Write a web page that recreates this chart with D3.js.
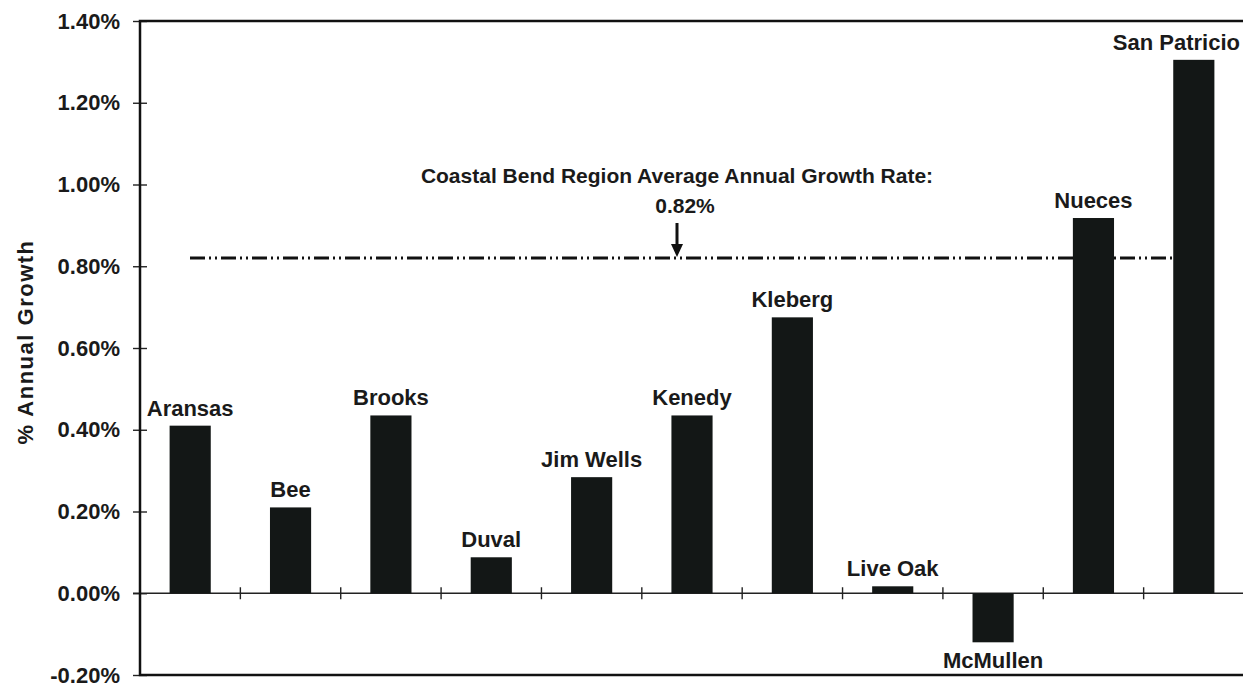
<!DOCTYPE html>
<html>
<head>
<meta charset="utf-8">
<script src="https://cdn.jsdelivr.net/npm/d3@7"></script>
<style>
  body { margin: 0; background: #fff; }
  text { font-family: "Liberation Sans", Arial, sans-serif; font-weight: bold; fill: #1a1a1a; }
</style>
</head>
<body>
<script>
var width = 1243,
    height = 687;

var counties = ["Aransas", "Bee", "Brooks", "Duval", "Jim Wells", "Kenedy",
    "Kleberg", "Live Oak", "McMullen", "Nueces", "San Patricio"];
var growth = [0.0041, 0.0021, 0.00435, 0.00088, 0.00284, 0.00435,
    0.00675, 0.00017, -0.0012, 0.00918, 0.01305];
var yTicks = [-0.002, 0, 0.002, 0.004, 0.006, 0.008, 0.010, 0.012, 0.014];
var regionAverage = 0.0082;

var margin = { left: 140, top: 21, right: -1, bottom: 12 };

var svg = d3.select("body").append("svg")
    .attr("width", width)
    .attr("height", height);

var x = d3.scaleBand()
    .domain(counties)
    .range([margin.left, width - margin.right])
    .paddingInner(0.59)
    .paddingOuter(0.295);

var y = d3.scaleLinear()
    .domain([-0.002, 0.014])
    .range([height - margin.bottom, margin.top]);

// plain hyphen for negatives, like the original
var fmt = d3.formatLocale({ decimal: ".", thousands: ",", grouping: [3], currency: ["$", ""], minus: "-" }).format(".2%");

// average line goes behind the bars
svg.append("line")
    .attr("x1", 190)
    .attr("x2", x("San Patricio") + x.bandwidth() / 2)
    .attr("y1", y(regionAverage))
    .attr("y2", y(regionAverage))
    .attr("stroke", "#111")
    .attr("stroke-width", 3)
    .attr("stroke-dasharray", "15,4,2,4,2,4");

// zero line
svg.append("line")
    .attr("x1", margin.left - 7)
    .attr("x2", width)
    .attr("y1", y(0))
    .attr("y2", y(0))
    .attr("stroke", "#222")
    .attr("stroke-width", 1.4);

// x ticks between categories on the zero line
var step = x.step();
svg.selectAll(".xtick")
    .data(counties.slice(1))
    .enter().append("line")
    .attr("class", "xtick")
    .attr("x1", function (d) { return x(d) + x.bandwidth() / 2 - step / 2; })
    .attr("x2", function (d) { return x(d) + x.bandwidth() / 2 - step / 2; })
    .attr("y1", y(0) - 6)
    .attr("y2", y(0) + 6)
    .attr("stroke", "#222")
    .attr("stroke-width", 1.4);

svg.selectAll(".bar")
    .data(counties)
    .enter().append("rect")
    .attr("class", "bar")
    .attr("x", function (d) { return x(d); })
    .attr("width", x.bandwidth())
    .attr("y", function (d, i) { return y(Math.max(0, growth[i])); })
    .attr("height", function (d, i) { return Math.abs(y(growth[i]) - y(0)); })
    .attr("fill", "#131716");

svg.selectAll(".blabel")
    .data(counties)
    .enter().append("text")
    .attr("class", "blabel")
    .attr("x", function (d) { return x(d) + x.bandwidth() / 2; })
    .attr("y", function (d, i) { return growth[i] >= 0 ? y(growth[i]) - 10 : y(growth[i]) + 26; })
    .attr("text-anchor", "middle")
    .style("font-size", "22px")
    .text(function (d) { return d; })
    .each(function () {
        // keep labels inside the picture
        var w = this.getComputedTextLength(),
            cx = +d3.select(this).attr("x");
        if (cx + w / 2 > width - 3) d3.select(this).attr("x", width - 3 - w / 2);
    });

// y axis
var yAxis = d3.axisLeft(y)
    .tickValues(yTicks)
    .tickFormat(fmt)
    .tickSize(7);

var ax = svg.append("g")
    .attr("transform", "translate(" + margin.left + ",0)")
    .call(yAxis);
ax.select(".domain").remove();
ax.selectAll(".tick line").attr("x2", 7).attr("x1", -7).attr("stroke", "#222").attr("stroke-width", 1.4);
ax.selectAll(".tick text")
    .style("font-size", "22px")
    .style("font-family", "'Liberation Sans', Arial, sans-serif")
    .style("font-weight", "bold")
    .attr("fill", "#1a1a1a")
    .attr("x", -20);

// frame: left, top, bottom
svg.append("path")
    .attr("d", "M" + width + "," + y(0.014) + "H" + margin.left + "V" + y(-0.002) + "H" + width)
    .attr("fill", "none")
    .attr("stroke", "#111")
    .attr("stroke-width", 2.5);

// axis title
svg.append("text")
    .attr("transform", "translate(33,342) rotate(-90)")
    .attr("text-anchor", "middle")
    .style("font-size", "22px")
    .style("letter-spacing", "1.5px")
    .text("% Annual Growth");

// average annotation
var ax0 = 677;
svg.append("text")
    .attr("x", ax0)
    .attr("y", 183)
    .attr("text-anchor", "middle")
    .style("font-size", "21px")
    .text("Coastal Bend Region Average Annual Growth Rate:");
svg.append("text")
    .attr("x", ax0 + 8)
    .attr("y", 213)
    .attr("text-anchor", "middle")
    .style("font-size", "21px")
    .text(fmt(regionAverage));

svg.append("line")
    .attr("x1", ax0).attr("x2", ax0)
    .attr("y1", 223).attr("y2", y(regionAverage) - 10)
    .attr("stroke", "#111")
    .attr("stroke-width", 3);
svg.append("path")
    .attr("d", "M" + (ax0 - 6) + "," + (y(regionAverage) - 14) + "L" + (ax0 + 6) + "," + (y(regionAverage) - 14) + "L" + ax0 + "," + (y(regionAverage) - 1) + "Z")
    .attr("fill", "#111");
</script>
</body>
</html>
